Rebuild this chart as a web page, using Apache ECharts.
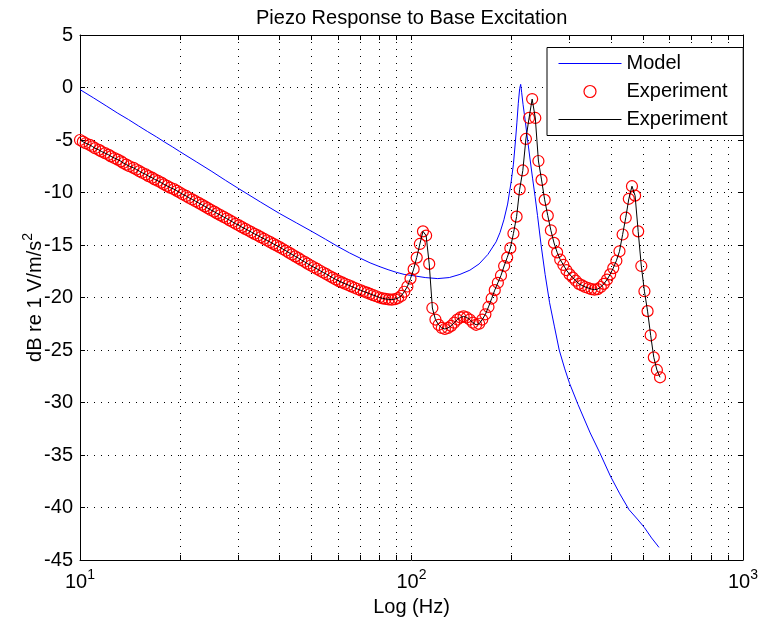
<!DOCTYPE html>
<html><head><meta charset="utf-8">
<script src="https://cdn.jsdelivr.net/npm/echarts@6/dist/echarts.min.js"></script>
<style>html,body{margin:0;padding:0;background:#fff}#c{width:761px;height:624px}</style>
</head><body><div id="c"></div>
<script>
const titleText = 'Piezo Response to Base Excitation';
const xName = 'Log (Hz)';
const yNameMain = 'dB re 1 V/m/s';
const yNameSup = '2';
const seriesNames = ['Model', 'Experiment', 'Experiment '];

const xLabelTicks = [10, 100, 1000];
const xTickValues = [10, 20, 30, 40, 50, 60, 70, 80, 90, 100, 200, 300, 400, 500, 600, 700, 800, 900, 1000];

const modelFreq = [10, 11, 12, 13, 14, 15, 16, 17, 18, 19, 20, 22.5, 25, 27.5, 30, 35, 40, 45, 50, 55, 60, 65, 70, 75, 80, 85, 90, 95, 100, 110, 120, 130, 140, 150, 160, 170, 180, 185, 190, 195, 200, 203, 206, 208, 210, 212, 213.5, 215, 217, 220, 224, 228, 232, 236, 240, 246, 253, 261, 270, 279, 290, 300, 318, 346, 370, 398, 425, 453, 480, 504, 530, 558];
const modelDb = [-0.2, -1.0, -1.75, -2.45, -3.05, -3.65, -4.2, -4.7, -5.2, -5.65, -6.1, -7.1, -8.0, -8.85, -9.6, -10.9, -12.0, -12.9, -13.7, -14.45, -15.15, -15.75, -16.25, -16.7, -17.05, -17.35, -17.6, -17.8, -17.9, -18.1, -18.2, -18.1, -17.8, -17.4, -16.8, -15.9, -14.7, -13.8, -12.6, -11.1, -8.9, -7.3, -5.0, -3.3, -1.5, -0.1, 0.3, -0.5, -1.6, -3.0, -5.0, -6.9, -8.7, -10.4, -12.2, -15.0, -17.8, -20.5, -22.8, -25.0, -26.8, -28.2, -30.2, -32.9, -34.8, -37.0, -38.7, -40.2, -41.1, -41.9, -42.9, -43.8];

const expFreq = [
  10.0, 10.2, 10.4, 10.7, 10.9, 11.1, 11.4, 11.6, 11.9, 12.2, 12.4, 12.7, 13.0, 13.3, 13.5, 13.8, 14.1, 14.5, 14.8, 15.1, 15.4, 15.8, 16.1, 16.5, 16.8, 17.2, 17.6, 17.9, 18.3, 18.7, 19.2, 19.6,
  20.0, 20.4, 20.9, 21.3, 21.8, 22.3, 22.8, 23.3, 23.8, 24.3, 24.8, 25.4, 25.9, 26.5, 27.1, 27.7, 28.3, 28.9, 29.5, 30.2, 30.8, 31.5, 32.2, 32.9, 33.6, 34.4, 35.1, 35.9, 36.7, 37.5, 38.3, 39.1,
  40.0, 40.9, 41.8, 42.7, 43.6, 44.6, 45.6, 46.5, 47.6, 48.6, 49.7, 50.8, 51.9, 53.0, 54.2, 55.4, 56.6, 57.8, 59.1, 60.4, 61.7, 63.0, 64.4, 65.8, 67.3, 68.7, 70.3, 71.8, 73.4, 75.0, 76.6, 78.3,
  80.0, 81.8, 83.5, 85.4, 87.2, 89.2, 91.1, 93.1, 95.1, 97.2, 99.3, 101.5, 103.7, 106.0, 108.3, 110.7, 113.1, 115.6, 118.1, 120.7, 123.4, 126.1, 128.8, 131.7, 134.5, 137.5, 140.5, 143.6, 146.7, 149.9, 153.2, 156.6,
  160.0, 163.5, 167.1, 170.7, 174.5, 178.3, 182.2, 186.2, 190.3, 194.4, 198.7, 203.0, 207.5, 212.0, 216.7, 221.4, 226.3, 231.2, 236.3, 241.5, 246.8, 252.2, 257.7, 263.3, 269.1, 275.0, 281.0, 287.2, 293.4, 299.9, 306.4, 313.1,
  320.0, 327.0, 334.2, 341.5, 349.0, 356.6, 364.4, 372.4, 380.5, 388.9, 397.4, 406.1, 415.0, 424.1, 433.4, 442.9, 452.5, 462.5, 472.6, 482.9, 493.5, 504.3, 515.4, 526.6, 538.2, 550.0, 562.0];
const expDb = [
  -5.00, -5.16, -5.31, -5.47, -5.62, -5.78, -5.94, -6.09, -6.25, -6.41, -6.56, -6.72, -6.87, -7.03, -7.19, -7.34, -7.50, -7.65, -7.81, -7.97, -8.12, -8.28, -8.44, -8.59, -8.75, -8.90, -9.06, -9.22, -9.37, -9.53, -9.68, -9.84,
  -10.00, -10.17, -10.33, -10.50, -10.66, -10.83, -10.99, -11.16, -11.32, -11.49, -11.66, -11.82, -11.99, -12.15, -12.32, -12.48, -12.65, -12.81, -12.98, -13.14, -13.30, -13.46, -13.62, -13.78, -13.94, -14.09, -14.25, -14.41, -14.57, -14.73, -14.89, -15.04,
  -15.20, -15.38, -15.55, -15.73, -15.90, -16.08, -16.25, -16.43, -16.60, -16.78, -16.95, -17.12, -17.28, -17.45, -17.62, -17.78, -17.95, -18.11, -18.28, -18.44, -18.56, -18.69, -18.81, -18.94, -19.07, -19.19, -19.32, -19.43, -19.54, -19.66, -19.77, -19.88,
  -20.00, -20.08, -20.14, -20.18, -20.20, -20.15, -20.05, -19.85, -19.45, -18.95, -18.20, -17.30, -16.20, -14.90, -13.70, -14.10, -16.80, -21.00, -22.10, -22.60, -22.90, -23.00, -22.90, -22.70, -22.40, -22.10, -21.90, -21.80, -21.90, -22.10, -22.40, -22.60,
  -22.50, -22.10, -21.60, -20.90, -20.10, -19.30, -18.60, -17.90, -17.00, -16.20, -15.30, -13.90, -12.30, -9.70, -7.90, -4.90, -2.90, -1.10, -2.90, -7.00, -8.80, -10.70, -12.20, -13.60, -14.80, -15.70, -16.40, -16.90, -17.40, -17.80, -18.10, -18.40,
  -18.70, -18.85, -19.00, -19.10, -19.20, -19.25, -19.20, -19.00, -18.70, -18.30, -17.80, -17.20, -16.50, -15.60, -14.00, -12.40, -10.60, -9.40, -10.30, -13.70, -17.00, -19.40, -21.30, -23.60, -25.70, -26.90, -27.60];

const FONT = 'Liberation Sans, Arial, Helvetica, sans-serif';
const chart = echarts.init(document.getElementById('c'), null, {renderer: 'canvas'});
const pair = (xs, ys) => xs.map((x, i) => [x, ys[i]]);
const gridLine = {show: true, lineStyle: {color: '#000', width: 1, type: [1, 6]}};
const noSymbol = {color: 'rgba(0,0,0,0)', borderColor: 'rgba(0,0,0,0)', borderWidth: 0};

chart.setOption({
  animation: false,
  backgroundColor: '#fff',
  textStyle: {fontFamily: FONT},
  title: {
    text: titleText, left: 251, top: 3,
    textStyle: {fontFamily: FONT, fontSize: 20, fontWeight: 'normal', color: '#000'}
  },
  grid: {left: 80, right: 14, top: 35, bottom: 64, containLabel: false},
  xAxis: [{
    type: 'log', logBase: 10, min: 10, max: 1000, position: 'bottom',
    axisLine: {show: true, onZero: false, lineStyle: {color: '#000', width: 1}},
    axisTick: {show: true, inside: true, length: 5, customValues: xTickValues, lineStyle: {color: '#000'}},
    axisLabel: {
      customValues: xLabelTicks, margin: 8,
      formatter: v => '{b|10}{s|' + Math.round(Math.log10(v)) + '}',
      rich: {
        b: {fontFamily: FONT, fontSize: 20, color: '#000', lineHeight: 28},
        s: {fontFamily: FONT, fontSize: 14, color: '#000', verticalAlign: 'top', lineHeight: 16}
      }
    },
    splitLine: gridLine,
    name: xName, nameLocation: 'middle', nameGap: 37, nameMoveOverlap: false,
    nameTextStyle: {fontFamily: FONT, fontSize: 20, color: '#000'}
  }, {
    type: 'log', logBase: 10, min: 10, max: 1000, position: 'top',
    axisLine: {show: true, onZero: false, lineStyle: {color: '#000', width: 1}},
    axisTick: {show: true, inside: true, length: 5, customValues: xTickValues, lineStyle: {color: '#000'}},
    axisLabel: {show: false}, splitLine: {show: false}
  }],
  yAxis: [{
    type: 'value', min: -45, max: 5, interval: 5, position: 'left',
    axisLine: {show: true, onZero: false, lineStyle: {color: '#000', width: 1}},
    axisTick: {show: true, inside: true, length: 5, lineStyle: {color: '#000'}},
    axisLabel: {fontFamily: FONT, fontSize: 20, color: '#000', margin: 7},
    splitLine: gridLine,
    name: '{a|' + yNameMain + '}{s|' + yNameSup + '}', nameLocation: 'middle', nameGap: 31, nameRotate: 90,
    nameMoveOverlap: false,
    nameTextStyle: {
      rich: {
        a: {fontFamily: FONT, fontSize: 20, color: '#000', lineHeight: 28},
        s: {fontFamily: FONT, fontSize: 14, color: '#000', verticalAlign: 'top', lineHeight: 16}
      }
    }
  }, {
    type: 'value', min: -45, max: 5, interval: 5, position: 'right',
    axisLine: {show: true, onZero: false, lineStyle: {color: '#000', width: 1}},
    axisTick: {show: true, inside: true, length: 5, lineStyle: {color: '#000'}},
    axisLabel: {show: false}, splitLine: {show: false}
  }],
  legend: {
    orient: 'vertical', left: 547, top: 47.5, padding: [6, 10, 6, 11],
    itemWidth: 63, itemHeight: 12, itemGap: 8,
    backgroundColor: '#fff', borderColor: '#000', borderWidth: 1, borderRadius: 0,
    selectedMode: false,
    textStyle: {fontFamily: FONT, fontSize: 20, color: '#000'},
    data: [
      {name: seriesNames[0], itemStyle: noSymbol, lineStyle: {color: '#0000ff', width: 1}},
      {name: seriesNames[1], icon: 'circle', itemStyle: {color: 'rgba(0,0,0,0)', borderColor: '#ff0000', borderWidth: 1.2}},
      {name: seriesNames[2], itemStyle: noSymbol, lineStyle: {color: '#000000', width: 1}}
    ]
  },
  series: [{
    name: seriesNames[0], type: 'line', xAxisIndex: 0, yAxisIndex: 0,
    data: pair(modelFreq, modelDb), symbol: 'none', z: 2,
    lineStyle: {color: '#0000ff', width: 1}, itemStyle: {color: '#0000ff'}
  }, {
    name: seriesNames[1], type: 'scatter', xAxisIndex: 0, yAxisIndex: 0,
    data: pair(expFreq, expDb), symbol: 'circle', symbolSize: 11, z: 3,
    itemStyle: {color: 'rgba(0,0,0,0)', borderColor: '#ff0000', borderWidth: 1.2, opacity: 1}
  }, {
    name: seriesNames[2], type: 'line', xAxisIndex: 0, yAxisIndex: 0,
    data: pair(expFreq, expDb), symbol: 'none', z: 4,
    lineStyle: {color: '#000000', width: 1}, itemStyle: {color: '#000000'}
  }]
});
</script>
</body></html>
